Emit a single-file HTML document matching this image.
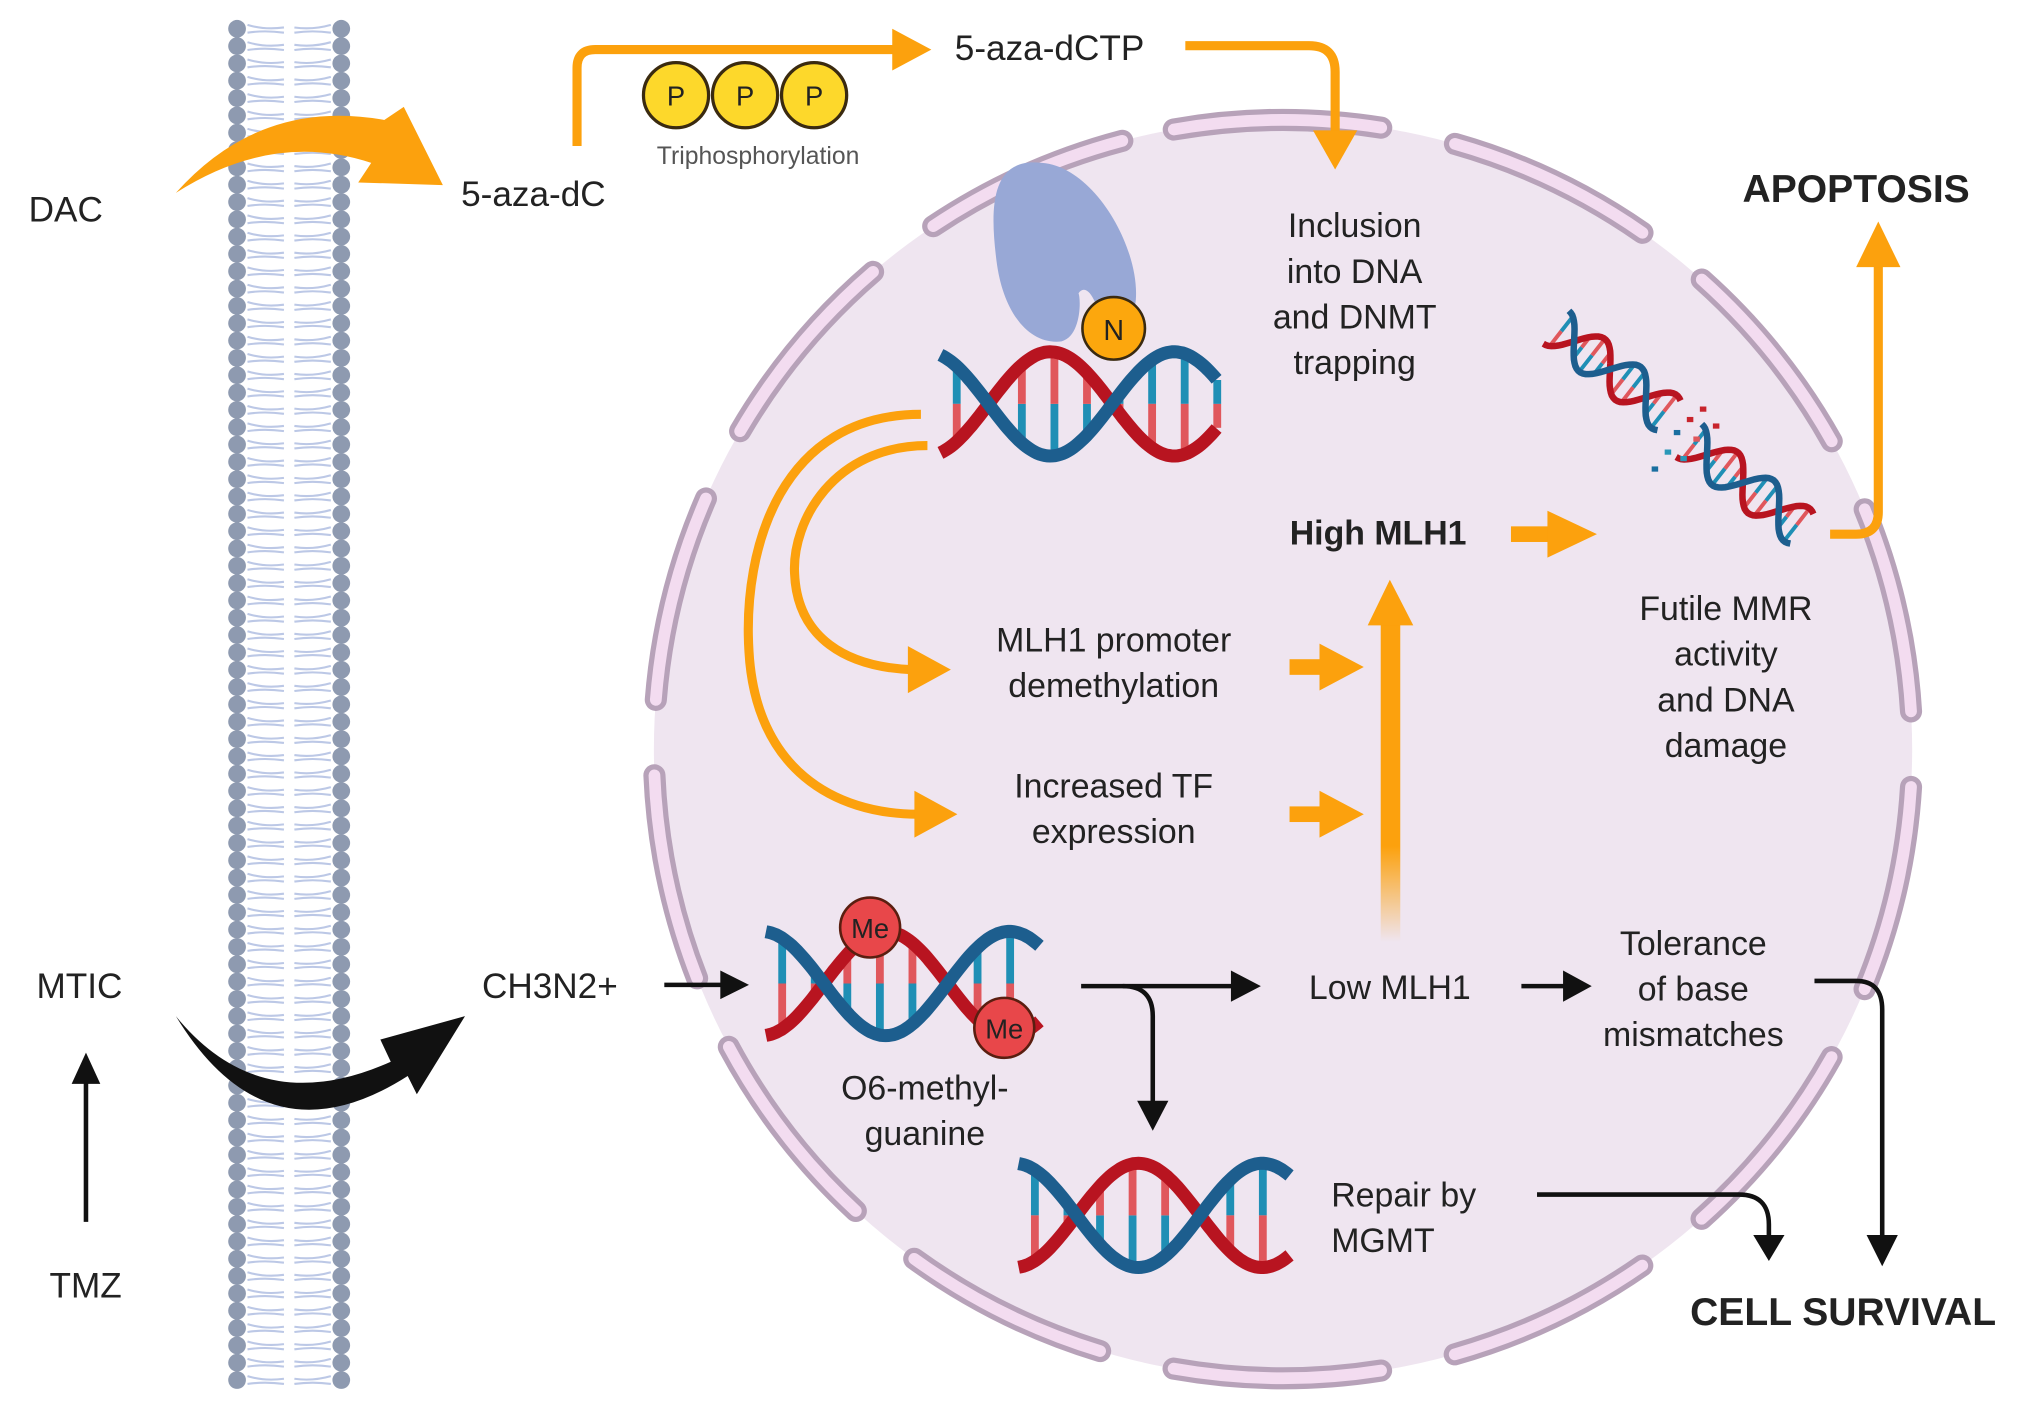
<!DOCTYPE html>
<html><head><meta charset="utf-8"><style>
html,body{margin:0;padding:0;background:#fff;overflow:hidden;width:2032px;height:1407px}
svg{display:block}
text{font-family:"Liberation Sans",sans-serif;fill:#222}
</style></head><body>
<svg id="s" width="2032" height="1407" viewBox="0 0 1560 1080" xmlns="http://www.w3.org/2000/svg">
<defs>
<linearGradient id="vg" x1="0" y1="0" x2="0" y2="1">
<stop offset="0" stop-color="#fca10d"/><stop offset="0.7" stop-color="#fca10d"/><stop offset="1" stop-color="#fca10d" stop-opacity="0"/>
</linearGradient>
</defs>
<g id="mem"></g>
<circle cx="985" cy="575" r="483" fill="#efe5f0"/>
<circle cx="985" cy="575" r="483" fill="none" stroke="#b7a2b9" stroke-width="17" stroke-dasharray="160 58" stroke-linecap="round" transform="rotate(-100 985 575)"/>
<circle cx="985" cy="575" r="483" fill="none" stroke="#f3dcf0" stroke-width="9" stroke-dasharray="160 58" stroke-linecap="round" transform="rotate(-100 985 575)"/>

<path d="M800,125 C760,120 760,160 765,200 C770,240 790,265 815,262 C830,258 830,230 828,225 C835,215 845,235 845,255 C860,262 870,250 872,230 C875,190 840,128 800,125 Z" fill="#98a8d6"/>

<g id="dna"></g>

<circle cx="855" cy="252" r="24" fill="#fca70d" stroke="#3a2a10" stroke-width="2"/>
<text x="855" y="261" font-size="22" text-anchor="middle">N</text>
<circle cx="668" cy="712" r="23" fill="#e8474a" stroke="#5a1e10" stroke-width="2"/>
<text x="668" y="720" font-size="21" text-anchor="middle">Me</text>
<circle cx="771" cy="789" r="23" fill="#e8474a" stroke="#5a1e10" stroke-width="2"/>
<text x="771" y="797" font-size="21" text-anchor="middle">Me</text>

<g stroke="#3a2a10" stroke-width="2.5" fill="#fdd82b">
<circle cx="519" cy="73" r="25"/><circle cx="572" cy="73" r="25"/><circle cx="625" cy="73" r="25"/>
</g>
<g font-size="21" text-anchor="middle"><text x="519" y="81">P</text><text x="572" y="81">P</text><text x="625" y="81">P</text></g>
<text x="582" y="126" font-size="19" text-anchor="middle" style="fill:#555">Triphosphorylation</text>

<g fill="none" stroke="#fca10d" stroke-width="7">
<path d="M443,112 V52 Q443,38 457,38 H688"/>
<path d="M910,35 H1005 Q1025,35 1025,55 V105"/>
<path d="M1405,410 H1425 Q1442,410 1442,393 V200"/>
<path d="M707,318 C600,318 570,420 575,500 C580,590 640,625 705,625"/>
<path d="M712,342 C640,342 608,400 610,440 C612,490 650,512 700,514"/>
</g>
<g fill="#fca10d">
<path d="M685,22 L715,38 L685,54 Z"/>
<path d="M1008,100 L1042,100 L1025,130 Z"/>
<path d="M1425,205 L1459,205 L1442,170 Z"/>
<path d="M697,496 L730,514 L697,532 Z"/>
<path d="M702,607 L735,625 L702,643 Z"/>
<rect x="1160" y="404" width="30" height="12"/><path d="M1188,392 L1226,410 L1188,428 Z"/>
<rect x="990" y="506" width="25" height="12"/><path d="M1013,494 L1047,512 L1013,530 Z"/>
<rect x="990" y="619" width="25" height="12"/><path d="M1013,607 L1047,625 L1013,643 Z"/>
<path d="M135,148 Q200,75 295,92 L310,82 L340,142 L275,140 L285,125 Q210,100 135,148 Z"/>
</g>
<rect x="1060" y="478" width="15" height="245" fill="url(#vg)"/>
<path d="M1050,480 L1085,480 L1067,445 Z" fill="#fca10d"/>

<path d="M135,780 Q200,860 300,815 L292,798 L357,780 L320,840 L313,826 Q205,895 135,780 Z" fill="#111"/>
<g fill="none" stroke="#111" stroke-width="3.5">
<path d="M66,938 V830"/>
<path d="M510,756 H555"/>
<path d="M830,757 H950"/>
<path d="M862,757 Q885,757 885,780 V850"/>
<path d="M1168,757 H1205"/>
<path d="M1393,753 H1425 Q1445,753 1445,775 V955"/>
<path d="M1180,917 H1335 Q1358,917 1358,940 V955"/>
</g>
<g fill="#111">
<path d="M55,832 L77,832 L66,808 Z"/>
<path d="M553,745 L575,756 L553,767 Z"/>
<path d="M945,745 L968,757 L945,769 Z"/>
<path d="M1200,745 L1222,757 L1200,769 Z"/>
<path d="M873,845 L897,845 L885,868 Z"/>
<path d="M1433,948 L1457,948 L1445,972 Z"/>
<path d="M1346,948 L1370,948 L1358,968 Z"/>
</g>

<g font-size="27">
<text x="22" y="170">DAC</text>
<text x="354" y="158">5-aza-dC</text>
<text x="733" y="46">5-aza-dCTP</text>
<text x="28" y="766">MTIC</text>
<text x="38" y="996">TMZ</text>
<text x="370" y="766">CH3N2+</text>
</g>
<g font-size="26" text-anchor="middle">
<text x="1040" y="182">Inclusion</text><text x="1040" y="217">into DNA</text><text x="1040" y="252">and DNMT</text><text x="1040" y="287">trapping</text>
<text x="1325" y="476">Futile MMR</text><text x="1325" y="511">activity</text><text x="1325" y="546">and DNA</text><text x="1325" y="581">damage</text>
<text x="855" y="500">MLH1 promoter</text><text x="855" y="535">demethylation</text>
<text x="855" y="612">Increased TF</text><text x="855" y="647">expression</text>
<text x="710" y="844">O6-methyl-</text><text x="710" y="879">guanine</text>
<text x="1067" y="767">Low MLH1</text>
<text x="1300" y="733">Tolerance</text><text x="1300" y="768">of base</text><text x="1300" y="803">mismatches</text>
</g>
<text x="1022" y="926" font-size="26">Repair by</text><text x="1022" y="961" font-size="26">MGMT</text>
<text x="1058" y="418" font-size="26" font-weight="bold" text-anchor="middle">High MLH1</text>
<text x="1425" y="155" font-size="30" font-weight="bold" text-anchor="middle">APOPTOSIS</text>
<text x="1415" y="1017" font-size="30" font-weight="bold" text-anchor="middle">CELL SURVIVAL</text>
</svg>
<script>
var NS="http://www.w3.org/2000/svg";
function el(p,t,a){var e=document.createElementNS(NS,t);for(var k in a)e.setAttribute(k,a[k]);p.appendChild(e);return e;}
var mem=document.getElementById('mem');
for(var y=22;y<1072;y+=13.3){
 el(mem,'path',{d:'M190,'+(y-3)+' Q203,'+(y+1)+' 218,'+(y-1)+' M190,'+(y+3)+' Q203,'+(y+1)+' 218,'+(y+3)+' M226,'+(y-1)+' Q240,'+(y+1)+' 254,'+(y-3)+' M226,'+(y+3)+' Q240,'+(y+1)+' 254,'+(y+3),fill:'none',stroke:'#bcc8e6','stroke-width':1.6});
 el(mem,'circle',{cx:182,cy:y,r:6.8,fill:'#8e9ab0'});
 el(mem,'circle',{cx:262,cy:y,r:6.8,fill:'#8e9ab0'});
}
var dna=document.getElementById('dna');
function helix(g,x0,x1,yc,A,period,phase,w,rung){
 var pb='',pr='';
 for(var x=x0;x<=x1;x+=2){
  var t=(x-x0)/period*2*Math.PI+phase;
  pb+=(x==x0?'M':'L')+x+','+(yc-A*Math.cos(t)).toFixed(1);
  pr+=(x==x0?'M':'L')+x+','+(yc+A*Math.cos(t)).toFixed(1);
 }
 for(var x=x0+rung/2;x<x1;x+=rung){
  var t=(x-x0)/period*2*Math.PI+phase;var a=yc-A*Math.cos(t),b=yc+A*Math.cos(t);var m=(a+b)/2;
  if(Math.abs(a-b)<12)continue;
  el(g,'line',{x1:x,y1:a,x2:x,y2:m,stroke:'#1f8fb5','stroke-width':w*0.6});
  el(g,'line',{x1:x,y1:m,x2:x,y2:b,stroke:'#e0575c','stroke-width':w*0.6});
 }
 el(g,'path',{d:pr,fill:'none',stroke:'#b81420','stroke-width':w});
 el(g,'path',{d:pb,fill:'none',stroke:'#1d5e8e','stroke-width':w});
}
helix(dna,722,935,310,40,190,0.35,10,25);
helix(dna,588,798,755,40,190,0.1,10,25);
helix(dna,782,990,933,40,190,0.1,10,25);
var g1=el(dna,'g',{transform:'translate(1238,285) rotate(38)'});
helix(g1,-55,55,0,16,70,0,5,10);
var g2=el(dna,'g',{transform:'translate(1340,372) rotate(38)'});
helix(g2,-55,55,0,16,70,0,5,10);
var fr=[[1285,330,'#1a6fa0'],[1278,345,'#2a98b8'],[1295,320,'#c8242c'],[1305,312,'#c8242c'],[1300,335,'#e0575c'],[1268,358,'#1a6fa0'],[1290,350,'#2a98b8'],[1315,325,'#c8242c']];
fr.forEach(function(f){el(dna,'rect',{x:f[0],y:f[1],width:5,height:4,fill:f[2]});});
</script>
</body></html>
